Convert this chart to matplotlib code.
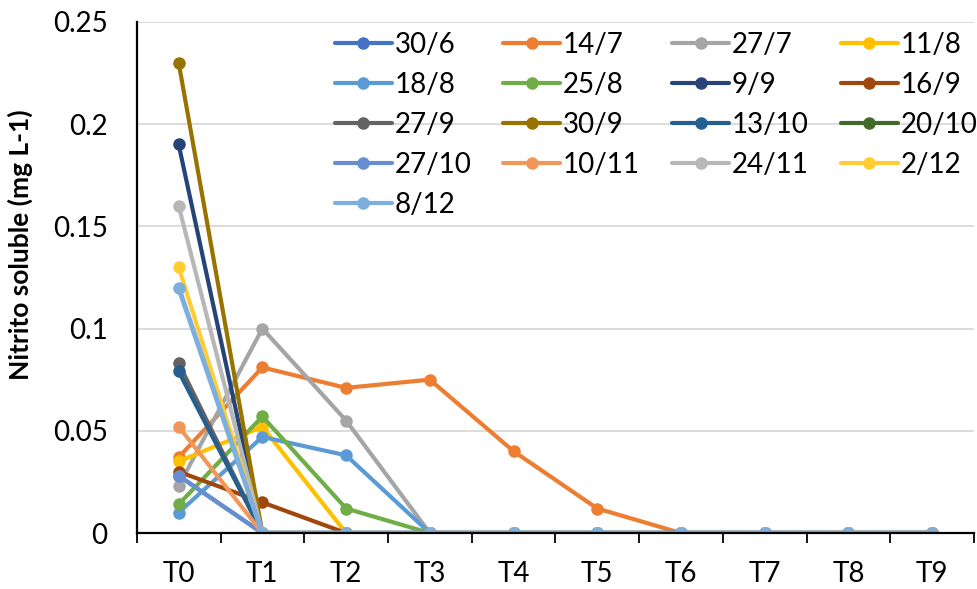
import numpy as np
from matplotlib import pyplot as plt

plt.rcParams['font.family'] = ['Lato', 'DejaVu Sans']

times = ['T0', 'T1', 'T2', 'T3', 'T4', 'T5', 'T6', 'T7', 'T8', 'T9']
dates = ['30/6', '14/7', '27/7', '11/8', '18/8', '25/8', '9/9', '16/9',
         '27/9', '30/9', '13/10', '20/10', '27/10', '10/11', '24/11', '2/12', '8/12']
colors = ['#4472C4', '#ED7D31', '#A5A5A5', '#FFC000', '#5B9BD5', '#70AD47',
          '#264478', '#9E480E', '#636363', '#997300', '#255E91', '#43682B',
          '#698ED0', '#F1975A', '#B7B7B7', '#FFCD33', '#7CAFDD']

nan = np.nan
# valores de nitrito (mg L-1)
values = [
    [0.028, 0, 0, 0, 0, 0, 0, 0, 0, 0],            # 30/6
    [0.037, 0.081, 0.071, 0.075, 0.040, 0.012, 0, 0, 0, 0],  # 14/7
    [0.023, 0.100, 0.055, 0, 0, 0, 0, 0, 0, 0],    # 27/7
    [0.035, 0.052, 0, 0, 0, 0, 0, 0, 0, 0],        # 11/8
    [0.010, 0.047, 0.038, 0, 0, 0, 0, 0, 0, 0],    # 18/8
    [0.014, 0.057, 0.012, 0, 0, 0, 0, 0, 0, 0],    # 25/8
    [0.190, 0, 0, 0, 0, 0, 0, 0, 0, 0],            # 9/9
    [0.030, 0.015, 0, 0, 0, 0, 0, 0, 0, 0],        # 16/9
    [0.083, 0, 0, 0, 0, 0, 0, 0, 0, 0],            # 27/9
    [0.230, 0, 0, 0, 0, 0, 0, 0, 0, 0],            # 30/9
    [0.079, 0, 0, 0, 0, 0, 0, 0, 0, 0],            # 13/10
    [nan, 0, 0, 0, 0, 0, 0, 0, 0, 0],              # 20/10
    [0.028, 0, 0, 0, 0, 0, 0, 0, 0, 0],            # 27/10
    [0.052, 0, 0, 0, 0, 0, 0, 0, 0, 0],            # 10/11
    [0.160, 0, 0, 0, 0, 0, 0, 0, 0, 0],            # 24/11
    [0.130, 0, 0, 0, 0, 0, 0, 0, 0, 0],            # 2/12
    [0.120, 0, 0, 0, 0, 0, 0, 0, 0, 0],            # 8/12
]

fig = plt.figure(figsize=(9.77, 5.89), dpi=100)
ax = fig.add_axes([0.140, 0.095, 0.857, 0.868])

x = np.arange(len(times))
n = len(dates)
for k, (lbl, col, v) in enumerate(zip(dates, colors, values)):
    # la ultima serie algo mas gruesa para tapar los bordes de las de debajo en y=0
    lw = 3.6 if k == n - 1 else 3.0
    ax.plot(x, v, '-o', color=col, lw=lw, ms=8, label=lbl, solid_capstyle='round')

ax.set_xlim(-0.5, len(times) - 0.5)
ax.set_ylim(0, 0.25)
ax.set_yticks([0, 0.05, 0.1, 0.15, 0.2, 0.25])
ax.set_yticklabels(['0', '0.05', '0.1', '0.15', '0.2', '0.25'])
ax.set_xticks(x)
ax.set_xticklabels(times)
ax.set_xticks(np.arange(-0.5, len(times), 1.0), minor=True)
ax.tick_params(axis='x', which='major', length=0, pad=20, labelsize=20)
ax.tick_params(axis='x', which='minor', length=7, width=1.3, direction='out')
ax.tick_params(axis='y', length=0, pad=21, labelsize=20)
ax.grid(axis='y', color='#D9D9D9', lw=1.3)
ax.set_axisbelow(True)
for s in ['top', 'right']:
    ax.spines[s].set_visible(False)
ax.spines['left'].set_linewidth(1.6)
ax.spines['bottom'].set_linewidth(1.6)

ax.set_ylabel('Nitrito soluble (mg L-1)', fontsize=19, fontweight='bold')
ax.yaxis.set_label_coords(-0.124, 0.564)

# leyenda por filas, como en Excel
handles, labels = ax.get_legend_handles_labels()
ncol = 4
order = [i for c in range(ncol) for i in range(c, len(handles), ncol)]
leg = ax.legend([handles[i] for i in order], [labels[i] for i in order],
                ncol=ncol, loc='upper left', bbox_to_anchor=(0.2366, 0.980), frameon=False,
                fontsize=20, handlelength=2.05, handletextpad=0.1, columnspacing=1.15,
                labelspacing=0.5, borderpad=0, borderaxespad=0)
for h in leg.get_lines():
    h.set_linewidth(3.0)

fig.savefig('out.png')
